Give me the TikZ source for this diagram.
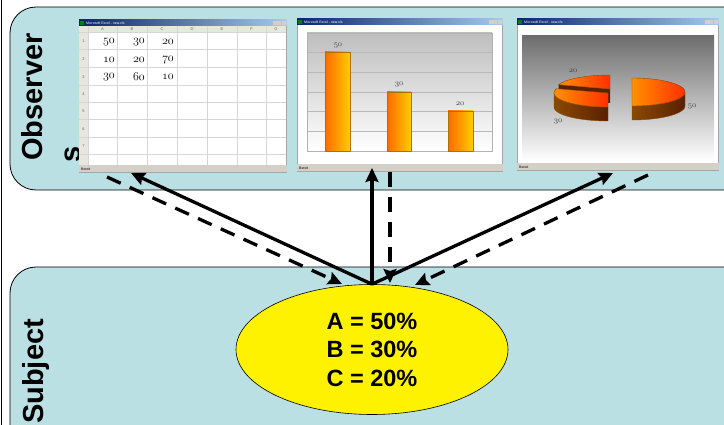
\documentclass[tikz,border=0pt]{standalone}
\usepackage{fontspec}
\setmainfont{Liberation Sans}
\usetikzlibrary{arrows.meta,shapes.geometric,calc}
\definecolor{boxfill}{HTML}{BBE0E3}
\definecolor{winbg}{HTML}{D4D0C8}
\definecolor{hdrbg}{HTML}{E8E6DE}
\definecolor{gridc}{HTML}{D6D6D6}
\definecolor{titleL}{HTML}{0A246A}
\definecolor{titleR}{HTML}{A6CAF0}
\definecolor{barA}{HTML}{FF6A00}
\definecolor{barB}{HTML}{FFCC00}
\definecolor{barE}{HTML}{B07000}
\definecolor{pieA}{HTML}{FF9000}
\definecolor{pieB}{HTML}{FF3000}
\definecolor{sideA}{HTML}{8A4A00}
\definecolor{sideB}{HTML}{5A2000}
\definecolor{digitc}{HTML}{404040}
\definecolor{plotgray}{HTML}{6E6E6E}
\definecolor{barplot}{HTML}{BEBEBE}
\newcommand\osn[1]{{\usefont{OML}{cmm}{m}{it}#1}}
\tikzset{
  obsbox/.style={draw=black, line width=0.8pt, fill=boxfill, rounded corners=26pt},
  winframe/.style={draw=gray!70, line width=0.5pt, fill=white, inner sep=0pt, anchor=north west},
  tinytext/.style={font=\fontsize{3.5}{4}\selectfont, inner sep=0pt},
  solidarrow/.style={line width=3.3pt, -{Stealth[length=14pt,width=13pt,inset=2pt]}},
  dasharrow/.style={line width=3.3pt, dash pattern=on 15pt off 10pt, -{Stealth[length=14pt,width=13pt,inset=2pt]}},
  labelrot/.style={rotate=90, anchor=base west, inner sep=0pt, font=\bfseries\fontsize{29}{34}\selectfont},
  cellnum/.style={font=\fontsize{13}{15}\selectfont, inner sep=0pt},
  chartnum/.style={font=\fontsize{8}{9}\selectfont, text=digitc, inner sep=0pt},
  hdrtext/.style={font=\fontsize{4}{5}\selectfont, text=gray!80!black, inner sep=0pt},
}
\newcommand\xlwin[5]{%
  \node[winframe, minimum width={(#4-#2)*1pt}, minimum height={(#5-#3)*1pt}] (#1) at (#2,#3) {};
  \shade[left color=titleL, right color=titleR] (#1.north west) rectangle ($(#1.north east)+(0,6)$);
  \fill[green!50!black] ($(#1.north west)+(1,1)$) rectangle +(4,4);
  \node[tinytext, text=white, anchor=west] at ($(#1.north west)+(7,3)$) {Microsoft Excel - new.xls};
  \foreach \k in {0,1,2} \fill[winbg] ($(#1.north east)+(-14+4.5*\k,1)$) rectangle +(4,4);
  \fill[winbg] ($(#1.south west)+(0,-7)$) rectangle (#1.south east);
  \node[tinytext, anchor=west] at ($(#1.south west)+(2,-3.5)$) {Bereit};
}
\begin{document}
\begin{tikzpicture}[x=1pt,y=-1pt]
\useasboundingbox (0,0) rectangle (724,425);
\clip (0,0) rectangle (724,425);
\fill[white] (0,0) rectangle (724,425);
\draw[line width=1pt] (1,0) -- (1,425);

% boxes
\draw[obsbox] (10,7) rectangle (752,190);
\draw[obsbox] (10,267) rectangle (752,470);

% labels
\node[labelrot] (obs) at (42,161) {Observer};
\node[labelrot] (obs2) at (80,163) {s};
\node[labelrot] (subj) at (43,424) {Subject};

% ---------- window 1 : spreadsheet
\xlwin{w1}{79}{20}{286}{172}
\fill[hdrbg] (79.3,26) rectangle (285.7,32);
\fill[hdrbg] (79.3,32) rectangle (88,165);
\foreach \y in {32,49,67,85,102,119,137,154} \draw[gridc, line width=0.6pt] (79.3,\y) -- (285.7,\y);
\foreach \x in {88,117,147,177,207,237,266} \draw[gridc, line width=0.6pt] (\x,26) -- (\x,165);
\foreach \c/\x in {A/102.5,B/132,C/162,D/192,E/222,F/251.5,G/276}
  \node[hdrtext] at (\x,29) {\c};
\foreach \r/\y in {1/40.5,2/58,3/76,4/93.5,5/110.5,6/128,7/145.5}
  \node[hdrtext] at (83.5,{\y+1}) {\r};
\foreach \v/\x/\y in {50/109/42,30/139/42,20/168/42,10/109/60,20/139/60,70/168/60,30/109/77,60/139/77,10/168/77}
  \node[cellnum] at (\x,\y) {\osn{\v}};

% ---------- window 2 : bar chart
\xlwin{w2}{297}{19}{502}{171}
\shade[top color=barplot, bottom color=white] (307,33) rectangle (492,151);
\foreach \y in {52,72,92,111,131} \draw[gray!55, line width=0.6pt] (307,\y) -- (492,\y);
\draw[gray!60, line width=0.6pt] (307,33) rectangle (492,151);
\foreach \xa/\ya/\xb in {325/52/350,387/92/411,448/111/473}
  \path[draw=barE, line width=0.6pt, left color=barA, right color=barB] (\xa,\ya) rectangle (\xb,151);
\node[chartnum] at (338,46) {\osn{50}};
\node[chartnum] at (399,85) {\osn{30}};
\node[chartnum] at (460,104) {\osn{20}};

% ---------- window 3 : pie chart
\xlwin{w3}{517}{19}{718}{170}
\shade[top color=plotgray, bottom color=white] (522,36) rectangle (714,161);
\def\rx{54}\def\ry{14}\def\dd{14}
% slice 20
\fill[sideB] (610,89) -- ({610+\rx*cos(198)},{89+\ry*sin(198)}) -- ++(0,\dd) -- (610,{89+\dd}) -- cycle;
\path[draw=sideA, line width=0.4pt, left color=pieA, right color=pieB] (610,89) -- plot[domain=198:270,samples=25] ({610+\rx*cos(\x)},{89+\ry*sin(\x)}) -- cycle;
% slice 30
\path[draw=sideA, line width=0.4pt, left color=sideA, right color=sideB] plot[domain=90:180,samples=25] ({608+\rx*cos(\x)},{93+\ry*sin(\x)}) -- plot[domain=180:90,samples=25] ({608+\rx*cos(\x)},{93+\dd+\ry*sin(\x)}) -- cycle;
\path[draw=sideA, line width=0.4pt, left color=pieA, right color=pieB] (608,93) -- plot[domain=90:198,samples=25] ({608+\rx*cos(\x)},{93+\ry*sin(\x)}) -- cycle;
% slice 50
\path[draw=sideA, line width=0.4pt, left color=sideA, right color=sideB] plot[domain=0:90,samples=25] ({632+53*cos(\x)},{92+\ry*sin(\x)}) -- plot[domain=90:0,samples=25] ({632+53*cos(\x)},{92+\dd+\ry*sin(\x)}) -- cycle;
\path[draw=sideA, line width=0.4pt, left color=pieA, right color=pieB] (632,92) -- plot[domain=-90:90,samples=40] ({632+53*cos(\x)},{92+\ry*sin(\x)}) -- cycle;
\node[chartnum] at (573,71) {\osn{20}};
\node[chartnum] at (558,122) {\osn{30}};
\node[chartnum] at (692,107) {\osn{50}};

% ---------- subject ellipse
\node[ellipse, draw=black, line width=0.6pt, fill=yellow, minimum width=272pt, minimum height=130pt,
      align=center, font=\bfseries\fontsize{23.5}{28.5}\selectfont] (ell) at (372,349.5)
      {A = 50\%\\B = 30\%\\C = 20\%};

% ---------- connectors
\coordinate (s1) at (131,173);
\coordinate (s2) at (372,168);
\coordinate (s3) at (613,173);
\coordinate (d1a) at (107,177);
\coordinate (d1b) at (342,284);
\coordinate (d2a) at (390,172);
\coordinate (d2b) at (390,283);
\coordinate (d3a) at (648,175);
\coordinate (d3b) at (415,285);
\draw[solidarrow] (ell.north) -- (s1);
\draw[solidarrow] (ell.north) -- (s2);
\draw[solidarrow] (ell.north) -- (s3);
\draw[dasharrow] (d1a) -- (d1b);
\draw[dasharrow] (d2a) -- (d2b);
\draw[dasharrow] (d3a) -- (d3b);
\end{tikzpicture}
\end{document}
